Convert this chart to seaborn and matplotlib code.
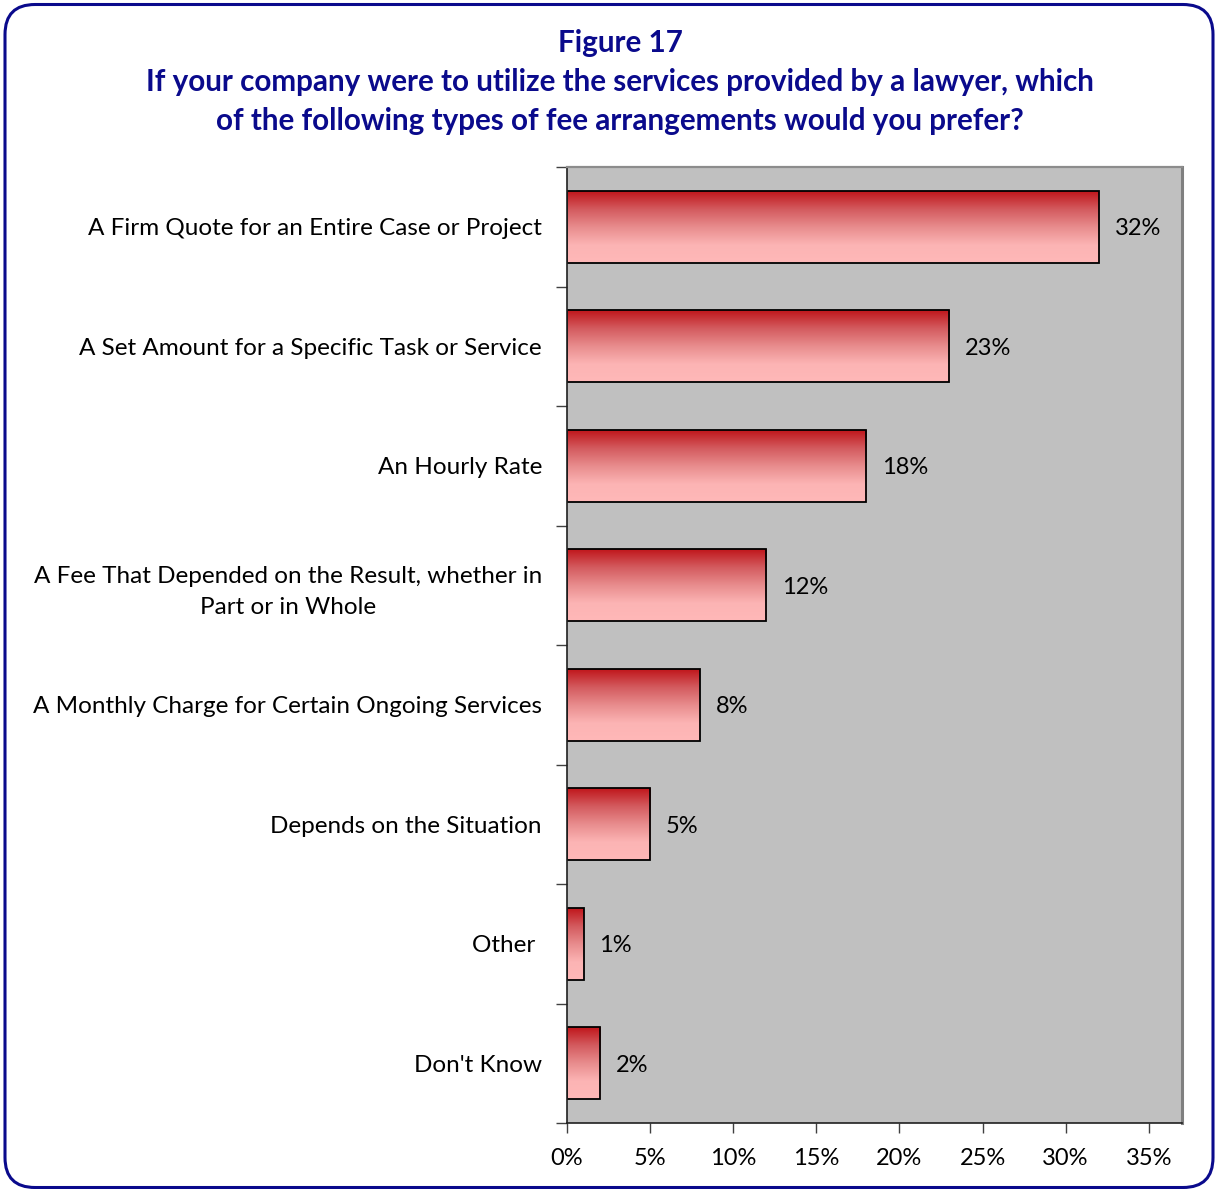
import numpy as np
import pandas as pd
import matplotlib
matplotlib.use("Agg")
import matplotlib.pyplot as plt
from matplotlib.patches import FancyBboxPatch
from matplotlib.colors import LinearSegmentedColormap
from matplotlib.ticker import FixedLocator, FuncFormatter
from matplotlib.transforms import IdentityTransform
import seaborn as sns

categories = [
    "A Firm Quote for an Entire Case or Project",
    "A Set Amount for a Specific Task or Service",
    "An Hourly Rate",
    "A Fee That Depended on the Result, whether in\nPart or in Whole",
    "A Monthly Charge for Certain Ongoing Services",
    "Depends on the Situation",
    "Other ",
    "Don't Know",
]
values = [32, 23, 18, 12, 8, 5, 1, 2]
x_ticks = [0, 5, 10, 15, 20, 25, 30, 35]

title_lines = [
    "Figure 17",
    "If your company were to utilize the services provided by a lawyer, which",
    "of the following types of fee arrangements would you prefer?",
]

sns.set_theme(style="white")
plt.rcParams["font.family"] = ["Lato", "DejaVu Sans"]

W, H = 1215, 1189
fig = plt.figure(figsize=(W / 100, H / 100), dpi=100)

# rounded navy frame around the whole figure (pixel units, origin bottom-left)
frame = FancyBboxPatch((5, 1.5), 1208, 1183,
                       boxstyle="round,pad=0,rounding_size=30",
                       transform=IdentityTransform(), facecolor="none",
                       edgecolor="#0A0A8C", linewidth=2.2, zorder=0)
fig.patches.append(frame)

ax = fig.add_axes([567 / W, 1 - 1123 / H, (1182 - 567) / W, (1123 - 167) / H])
ax.set_facecolor("#C0C0C0")

df = pd.DataFrame({"category": categories, "value": values})
sns.barplot(data=df, x="value", y="category", orient="h", width=0.6,
            color="#D9595C", edgecolor="black", linewidth=1.3, ax=ax,
            saturation=1)

cmap = LinearSegmentedColormap.from_list(
    "bar_fill", ["#C0161B", "#D35A5E", "#E88C8D", "#FCB4B4", "#FFB8B8"])
grad = np.linspace(0, 1, 256).reshape(-1, 1)

for patch, v in zip(ax.patches, values):
    x0, y0 = patch.get_x(), patch.get_y()
    w, h = patch.get_width(), patch.get_height()
    im = ax.imshow(grad, cmap=cmap, aspect="auto",
                   extent=(x0, x0 + w, y0 + h, y0), origin="upper",
                   zorder=patch.get_zorder() - 0.1, interpolation="bilinear")
    im.set_clip_path(patch)
    patch.set_facecolor("none")
    ax.text(v + 0.95, y0 + h / 2, f"{v}%", va="center_baseline", ha="left",
            fontsize=17, color="black")

ax.set_xlim(0, 37)
ax.set_ylim(len(categories) - 0.5, -0.5)
ax.set_xlabel("")
ax.set_ylabel("")

ax.xaxis.set_major_locator(FixedLocator(x_ticks))
ax.xaxis.set_major_formatter(FuncFormatter(lambda v, p: f"{v:.0f}%"))
ax.tick_params(axis="x", bottom=True, direction="out", length=7, width=1,
               color="#404040", labelsize=17, pad=11, labelcolor="black")

ax.set_yticks(range(len(categories)))
ax.set_yticklabels(categories)
ax.yaxis.set_minor_locator(FixedLocator(np.arange(-0.5, len(categories), 1)))
ax.tick_params(axis="y", which="major", left=False, length=0, pad=18,
               labelsize=17.5, labelcolor="black")
ax.tick_params(axis="y", which="minor", left=True, direction="out",
               length=8, width=1, color="#404040")
for lbl in ax.get_yticklabels():
    lbl.set_multialignment("center")
    lbl.set_linespacing(1.55)
    lbl.set_verticalalignment("center_baseline")

for side in ["left", "bottom"]:
    ax.spines[side].set_visible(True)
    ax.spines[side].set_color("#202020")
    ax.spines[side].set_linewidth(1.2)
ax.spines["right"].set_color("#7F7F7F")
ax.spines["right"].set_linewidth(2.2)
ax.spines["top"].set_color("#8C8C8C")
ax.spines["top"].set_linewidth(1.6)

title_color = "#0A0A8C"
for text, y in zip(title_lines, [43, 82, 121]):
    fig.text(620 / W, 1 - y / H, text, ha="center", va="center",
             fontsize=21.3, fontweight="bold", color=title_color)

fig.savefig("out.png", dpi=100)
